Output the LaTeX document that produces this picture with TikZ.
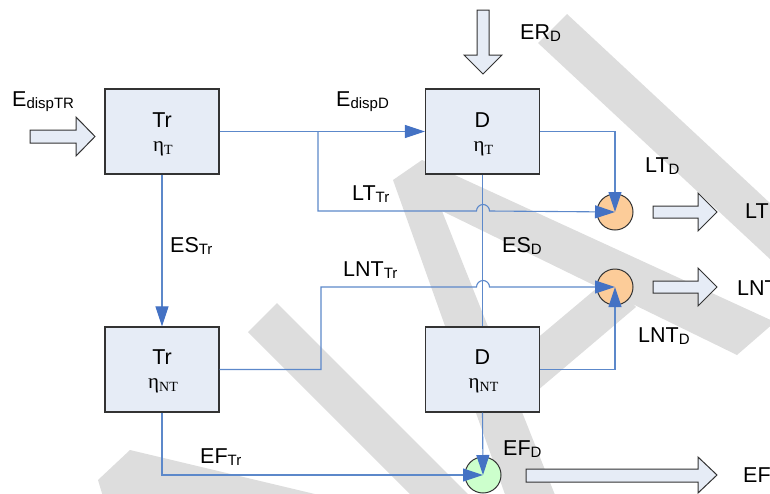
\documentclass[tikz,border=0pt]{standalone}
\usepackage{fontspec}
\setmainfont{Liberation Sans}
\newfontfamily\serifgr{Liberation Serif}
\usetikzlibrary{arrows.meta}
\definecolor{wm}{RGB}{221,221,221}
\definecolor{boxfill}{RGB}{230,236,246}
\definecolor{boxline}{RGB}{51,51,51}
\definecolor{conn}{RGB}{92,136,202}
\definecolor{headc}{RGB}{68,114,196}
\definecolor{orangefill}{RGB}{252,204,153}
\definecolor{greenfill}{RGB}{204,255,204}
\newcommand\lbl[2]{#1\raisebox{-2.5pt}{\fontsize{15}{15}\selectfont #2}}
\newcommand\etasub[1]{{\serifgr\fontsize{21}{21}\selectfont η\raisebox{-3pt}{\fontsize{14}{14}\selectfont #1}}}
\tikzset{
  txt/.style={font=\fontsize{21.5}{24}\selectfont, inner sep=0pt, anchor=base west},
  boxtxt/.style={font=\fontsize{21.5}{24}\selectfont, inner sep=0pt, anchor=base},
  procbox/.style={draw=boxline, fill=boxfill, line width=1.2pt, minimum width=114pt, minimum height=85pt, inner sep=0pt},
  sumcirc/.style={circle, draw=boxline, line width=1pt, minimum size=36pt, inner sep=0pt},
  conn/.style={draw=conn, line width=1.1pt},
  arr/.style={-{Triangle[length=20pt,width=13pt,color=headc]}},
  blockarrow/.style={draw=boxline, fill=boxfill, line width=1pt, line join=miter},
  wmark/.style={fill=wm, draw=none}
}
\begin{document}
\begin{tikzpicture}[x=1pt,y=-1pt]
\useasboundingbox (0,0) rectangle (770,493);
% watermark
\begin{scope}
\clip (0,0) rectangle (770,493);
\fill[wmark] (538,43) -- (567,14) -- (800,231) -- (800,287) -- cycle;
\fill[wmark] (393,180) -- (422,160) -- (775,322) -- (737,355) -- (442,211) -- (557,500) -- (507,500) -- cycle;
\fill[wmark] (610,277) -- (636,307) -- (505,418) -- (478,388) -- cycle;
\fill[wmark] (248,332) -- (277,303) -- (474,500) -- (416,500) -- cycle;
\fill[wmark] (98,480) -- (130,450) -- (340,500) -- (104,500) -- cycle;
\end{scope}
% boxes
\node[procbox] (trt) at (162,131.5) {};
\node[procbox] (dt) at (482.5,131.5) {};
\node[procbox] (trnt) at (162,369.5) {};
\node[procbox] (dnt) at (482.5,369.5) {};
\node[boxtxt] (trtA) at (162,127) {Tr};
\node[boxtxt] (trtB) at (163,151) {\etasub{T}};
\node[boxtxt] (dtA) at (482.5,127) {D};
\node[boxtxt] (dtB) at (483.5,151) {\etasub{T}};
\node[boxtxt] (trntA) at (162,364) {Tr};
\node[boxtxt] (trntB) at (163,388) {\etasub{NT}};
\node[boxtxt] (dntA) at (482.5,364) {D};
\node[boxtxt] (dntB) at (483.5,388) {\etasub{NT}};
% circles
\node[sumcirc, fill=orangefill] (ltc) at (615,212) {};
\node[sumcirc, fill=orangefill] (lntc) at (615,287) {};
\node[sumcirc, fill=greenfill] (efc) at (483,475) {};
% block arrows
\draw[blockarrow] (30,130) -- (76,130) -- (76,117) -- (95,136.5) -- (76,156) -- (76,143) -- (30,143) -- cycle;
\draw[blockarrow] (477,10) -- (489,10) -- (489,55) -- (502,55) -- (483,74) -- (464,55) -- (477,55) -- cycle;
\draw[blockarrow] (653,206) -- (698,206) -- (698,193) -- (717,212) -- (698,231) -- (698,218) -- (653,218) -- cycle;
\draw[blockarrow] (653,281) -- (698,281) -- (698,268) -- (717,287) -- (698,306) -- (698,293) -- (653,293) -- cycle;
\draw[blockarrow] (526,469) -- (698,469) -- (698,457) -- (717,475) -- (698,493) -- (698,482) -- (526,482) -- cycle;
% connectors
\coordinate (br1) at (318,131.5);
\coordinate (br2) at (321,369.5);
\draw[conn] (dt.south) -- (dnt.north);
\draw[conn,arr] (trt.east) -- (dt.west);
\draw[conn,arr] (br1) -- (318,211) -- (476.5,211) arc[start angle=180,end angle=360,radius=6.5] -- (ltc.center);
\draw[conn,arr] (dt.east) -| (ltc.center);
\draw[conn,arr] (trt.south) -- (trnt.north);
\draw[conn,arr] (trnt.east) -- (br2) -- (321,287) -- (476.5,287) arc[start angle=180,end angle=360,radius=6.5] -- (lntc.center);
\draw[conn,arr] (dnt.east) -| (lntc.center);
\draw[conn,arr] (trnt.south) |- (efc.center);
\draw[conn,arr] (dnt.south) -- (efc.center);
% labels
\node[txt] (l1) at (12,106) {\lbl{E}{dispTR}};
\node[txt] (l2) at (336,106) {\lbl{E}{dispD}};
\node[txt] (l3) at (520,39) {\lbl{ER}{D}};
\node[txt] (l4) at (352,200) {\lbl{LT}{Tr}};
\node[txt] (l5) at (645,172) {\lbl{LT}{D}};
\node[txt] (l6) at (745,218) {LT};
\node[txt] (l7) at (170,252) {\lbl{ES}{Tr}};
\node[txt] (l8) at (502,252) {\lbl{ES}{D}};
\node[txt] (l9) at (343,276) {\lbl{LNT}{Tr}};
\node[txt] (l10) at (638,342) {\lbl{LNT}{D}};
\node[txt] (l11) at (737,295) {LNT};
\node[txt] (l12) at (200,463) {\lbl{EF}{Tr}};
\node[txt] (l13) at (503,455) {\lbl{EF}{D}};
\node[txt] (l14) at (743,482) {EF};
\end{tikzpicture}
\end{document}
